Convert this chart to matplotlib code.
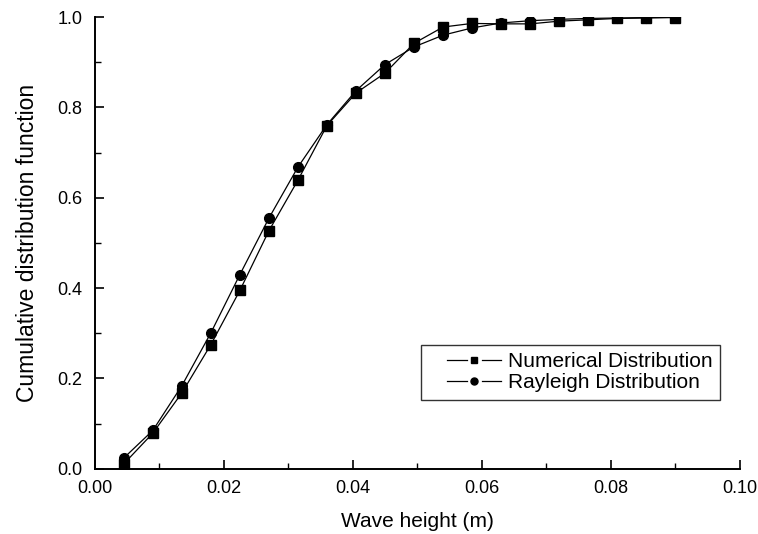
import numpy as np
import matplotlib
matplotlib.use("Agg")
import matplotlib.pyplot as plt
from matplotlib.lines import Line2D
from matplotlib.legend_handler import HandlerBase
from matplotlib.ticker import MultipleLocator, FormatStrFormatter

plt.rcParams['font.family'] = ['Liberation Sans', 'DejaVu Sans']

# wave height bins (m)
wave_height = [0.0045, 0.0090, 0.0135, 0.0180, 0.0225, 0.0270, 0.0315, 0.0360, 0.0405, 0.0450,
               0.0495, 0.0540, 0.0585, 0.0630, 0.0675, 0.0720, 0.0765, 0.0810, 0.0855, 0.0900]

# CDF from the simulation
cdf_numerical = [0.011, 0.079, 0.168, 0.275, 0.395, 0.527, 0.639, 0.760, 0.832, 0.876,
                 0.942, 0.978, 0.986, 0.985, 0.985, 0.991, 0.994, 0.997, 0.998, 0.999]

# theoretical Rayleigh CDF
cdf_rayleigh = [0.024, 0.085, 0.184, 0.301, 0.430, 0.555, 0.668, 0.762, 0.837, 0.895,
                0.934, 0.960, 0.976, 0.987, 0.992, 0.995, 0.997, 0.998, 0.999, 0.9995]


class GappedLineHandler(HandlerBase):
    """Legend key drawn as  —■—  with small gaps either side of the marker."""

    def create_artists(self, legend, orig_handle, xdescent, ydescent,
                       width, height, fontsize, trans):
        y = height / 2 - ydescent
        x0 = -xdescent + 0.9 * fontsize
        x1 = -xdescent + width - 0.15 * fontsize
        xm = (x0 + x1) / 2
        gap = 0.36 * fontsize
        kw = dict(color=orig_handle.get_color(), lw=orig_handle.get_linewidth())
        seg1 = Line2D([x0, xm - gap], [y, y], **kw)
        seg2 = Line2D([xm + gap, x1], [y, y], **kw)
        mark = Line2D([xm], [y], ls='none', marker=orig_handle.get_marker(),
                      ms=orig_handle.get_markersize() * 0.72,
                      color=orig_handle.get_color())
        for a in (seg1, seg2, mark):
            a.set_transform(trans)
        return [seg1, seg2, mark]


fig = plt.figure(figsize=(7.58, 5.34), dpi=100)
ax = fig.add_axes([0.125, 0.122, 0.851, 0.846])

ax.plot(wave_height, cdf_numerical, color='black', lw=0.9, marker='s', ms=6.5,
        label='Numerical Distribution')
ax.plot(wave_height, cdf_rayleigh, color='black', lw=0.9, marker='o', ms=7,
        label='Rayleigh Distribution')

ax.set_xlim(0, 0.10)
ax.set_ylim(0, 1.0)
ax.xaxis.set_major_locator(MultipleLocator(0.02))
ax.xaxis.set_minor_locator(MultipleLocator(0.01))
ax.yaxis.set_major_locator(MultipleLocator(0.2))
ax.yaxis.set_minor_locator(MultipleLocator(0.1))
ax.xaxis.set_major_formatter(FormatStrFormatter('%.2f'))
ax.yaxis.set_major_formatter(FormatStrFormatter('%.1f'))

for side in ('top', 'right'):
    ax.spines[side].set_visible(False)
for side in ('left', 'bottom'):
    ax.spines[side].set_linewidth(1.4)

ax.tick_params(which='major', direction='in', length=6.5, width=1.2, labelsize=13)
ax.tick_params(axis='x', which='major', pad=8)
ax.tick_params(axis='y', which='major', pad=9)
ax.tick_params(which='minor', direction='in', length=4.3, width=1.0)

ax.set_xlabel('Wave height (m)', fontsize=15, labelpad=11)
ax.set_ylabel('Cumulative distribution function', fontsize=16.5, labelpad=13)

leg = ax.legend(loc='lower right', bbox_to_anchor=(0.969, 0.153), borderaxespad=0,
                fontsize=15, frameon=True, fancybox=False, edgecolor='black',
                handlelength=3.6, handletextpad=0.2, borderpad=0.35,
                labelspacing=0.12, handler_map={Line2D: GappedLineHandler()})
leg.get_frame().set_linewidth(1.0)

fig.savefig('out.png', dpi=100)
